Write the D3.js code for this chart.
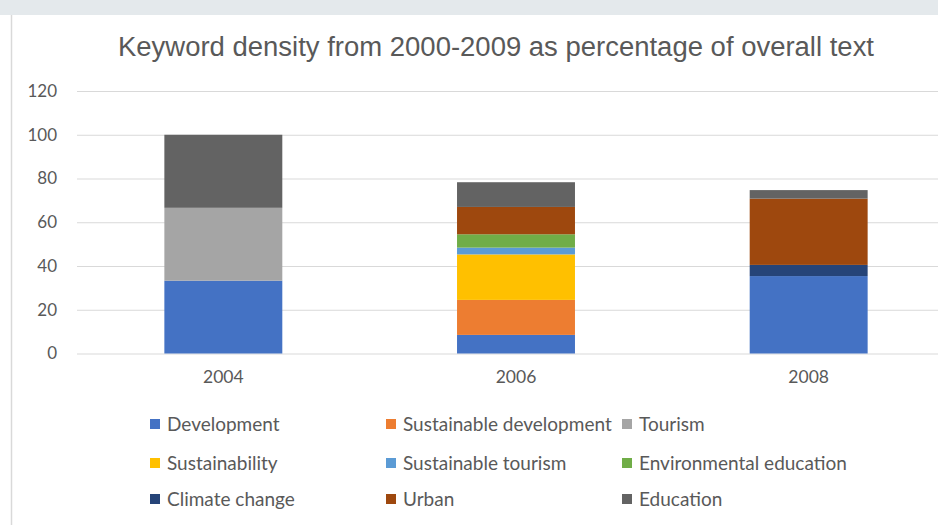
<!DOCTYPE html>
<html>
<head>
<meta charset="utf-8">
<script src="https://cdn.jsdelivr.net/npm/d3@7"></script>
<style>
  body { margin: 0; background: #fff; }
  svg { display: block; }
</style>
</head>
<body>
<svg id="chart" width="938" height="525"></svg>
<script>
// data
var years = ["2004", "2006", "2008"];
var keywords = ["Development", "Sustainable development", "Tourism", "Sustainability",
    "Sustainable tourism", "Environmental education", "Climate change", "Urban", "Education"];
var development = [33.3, 8.5, 35.4];
var sustainableDevelopment = [0, 16, 0];
var tourism = [33.3, 0, 0];
var sustainability = [0, 20.8, 0];
var sustainableTourism = [0, 3.1, 0];
var environmentalEducation = [0, 6.1, 0];
var climateChange = [0, 0, 5.1];
var urban = [0, 12.5, 30.3];
var education = [33.4, 11.3, 3.9];
var yTicks = [0, 20, 40, 60, 80, 100, 120];
var colours = ["#4472C4", "#ED7D31", "#A5A5A5", "#FFC000", "#5B9BD5", "#70AD47", "#264478", "#9E480E", "#636363"];

var series = [development, sustainableDevelopment, tourism, sustainability,
    sustainableTourism, environmentalEducation, climateChange, urban, education];

// build rows for the stack
var table = years.map(function(y, i) {
    var row = { year: y };
    keywords.forEach(function(k, j) { row[k] = series[j][i]; });
    return row;
});

var svg = d3.select("#chart");

// frame: grey strip on top, border line on the left
svg.append("rect").attr("x", 0).attr("y", 0).attr("width", 938).attr("height", 15).attr("fill", "#e4e9ec");
svg.append("line").attr("x1", 11.5).attr("x2", 11.5).attr("y1", 15).attr("y2", 525)
    .attr("stroke", "#d9d9d9").attr("stroke-width", 1.5);

var x = d3.scaleBand().domain(years).range([77, 955]).paddingInner(0.597).paddingOuter(0.2985);
var y = d3.scaleLinear().domain([0, 120]).range([353.5, 91]);
var colour = d3.scaleOrdinal().domain(keywords).range(colours);

svg.append("text")
    .attr("x", 496).attr("y", 56)
    .attr("text-anchor", "middle")
    .attr("font-family", "'Liberation Sans Narrow', 'Liberation Sans', Arial, sans-serif")
    .attr("font-size", 27)
    .attr("fill", "#595959")
    .attr("textLength", 756)
    .attr("lengthAdjust", "spacingAndGlyphs")
    .text("Keyword density from 2000-2009 as percentage of overall text");

// gridlines + y labels
var yAxis = d3.axisLeft(y).tickValues(yTicks).tickSize(-(955 - 77)).tickPadding(20);
var gy = svg.append("g").attr("transform", "translate(77,0)").call(yAxis);
gy.select(".domain").remove();
gy.selectAll(".tick line").attr("stroke", "#d9d9d9").attr("stroke-width", 1.2);
gy.selectAll(".tick text")
    .attr("font-family", "Lato, 'Open Sans', sans-serif")
    .attr("font-size", 17)
    .attr("fill", "#595959");

var stack = d3.stack().keys(keywords);
var layers = stack(table);

svg.append("g").selectAll("g")
    .data(layers)
    .join("g")
    .attr("fill", function(d) { return colour(d.key); })
    .selectAll("rect")
    .data(function(d) { return d; })
    .join("rect")
    .attr("x", function(d) { return x(d.data.year); })
    .attr("width", x.bandwidth())
    .attr("y", function(d) { return y(d[1]); })
    .attr("height", function(d) { return y(d[0]) - y(d[1]); });

// x axis labels
var xAxis = d3.axisBottom(x).tickSize(0).tickPadding(17);
var gx = svg.append("g").attr("transform", "translate(0,353.5)").call(xAxis);
gx.select(".domain").remove();
gx.selectAll(".tick text")
    .attr("font-family", "Lato, 'Open Sans', sans-serif")
    .attr("font-size", 17.5)
    .attr("fill", "#595959");

// legend, 3 columns
var legendCols = [150, 386, 622];
var legendRows = [424, 463, 499];
var legend = svg.append("g").selectAll("g")
    .data(keywords)
    .join("g")
    .attr("transform", function(d, i) {
        return "translate(" + legendCols[i % 3] + "," + legendRows[Math.floor(i / 3)] + ")";
    });
legend.append("rect")
    .attr("x", 0).attr("y", -5).attr("width", 10).attr("height", 10)
    .attr("fill", function(d) { return colour(d); });
legend.append("text")
    .attr("x", 17).attr("y", 0).attr("dy", "0.35em")
    .attr("font-family", "Lato, 'Open Sans', sans-serif")
    .attr("font-size", 19)
    .attr("fill", "#595959")
    .text(function(d) { return d; });
</script>
</body>
</html>
